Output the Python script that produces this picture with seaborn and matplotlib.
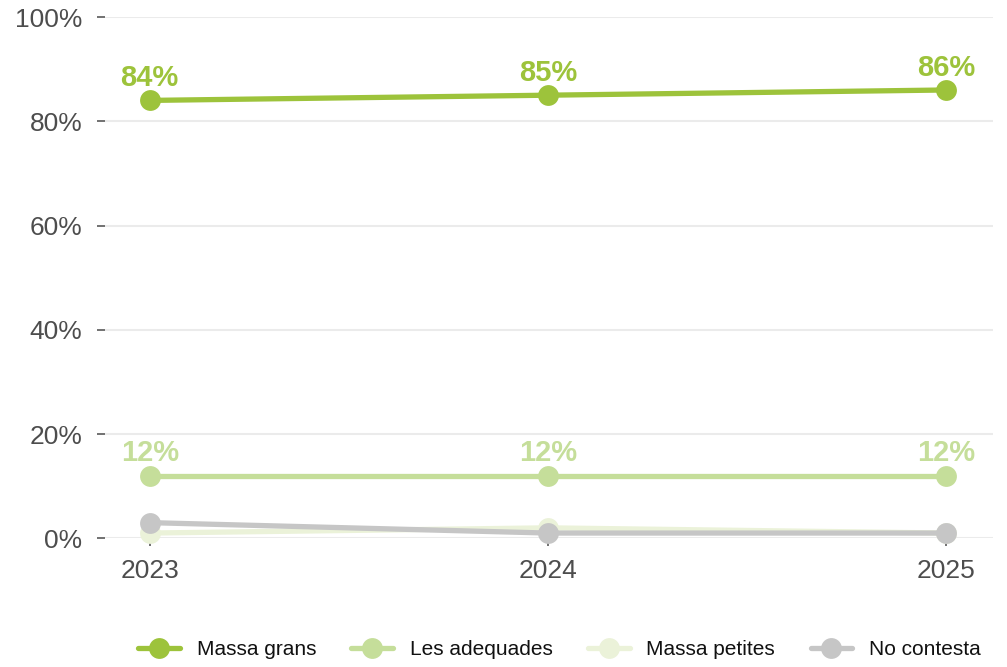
import matplotlib
matplotlib.use("Agg")
import matplotlib.pyplot as plt
import seaborn as sns
import pandas as pd

years = [2023, 2024, 2025]
massa_grans = [84, 85, 86]
les_adequades = [12, 12, 12]
massa_petites = [1, 2, 1]
no_contesta = [3, 1, 1]

series_names = ["Massa grans", "Les adequades", "Massa petites", "No contesta"]
series_values = [massa_grans, les_adequades, massa_petites, no_contesta]
colors = ["#9dc33b", "#c5de9a", "#ebf2d9", "#c6c6c6"]
labelled = ["Massa grans", "Les adequades"]

rows = []
for name, vals in zip(series_names, series_values):
    for y, v in zip(years, vals):
        rows.append({"year": y, "value": v, "serie": name})
df = pd.DataFrame(rows)

sns.set_theme(style="white")
plt.rcParams["font.family"] = ["Liberation Sans", "DejaVu Sans"]

fig = plt.figure(figsize=(10.07, 6.67), dpi=100)
ax = fig.add_axes([0.104, 0.193, 0.882, 0.7815])

palette = dict(zip(series_names, colors))
sns.lineplot(data=df, x="year", y="value", hue="serie", hue_order=series_names,
             palette=palette, marker="o", markersize=15, markeredgewidth=0,
             linewidth=3.8, ax=ax, legend=True, clip_on=False)

for name, vals in zip(series_names, series_values):
    if name in labelled:
        for y, v in zip(years, vals):
            ax.annotate(f"{v}%", (y, v), xytext=(0, 6), textcoords="offset points",
                        ha="center", va="bottom", fontsize=21, fontweight="bold",
                        color=palette[name])

ax.set_xlim(2022.887, 2025.118)
ax.set_ylim(0, 100)
ax.set_yticks([0, 20, 40, 60, 80, 100])
ax.set_yticklabels([f"{t}%" for t in [0, 20, 40, 60, 80, 100]])
ax.set_xticks(years)
ax.set_xticklabels([str(y) for y in years])
ax.grid(axis="y", color="#ebebeb", linewidth=1.5)
ax.grid(axis="x", visible=False)
ax.set_axisbelow(True)
for s in ax.spines.values():
    s.set_visible(False)
ax.tick_params(axis="both", which="both", length=6, width=1.3, color="#666666",
               labelsize=19, labelcolor="#4d4d4d", left=True, bottom=True)
ax.tick_params(axis="y", pad=10)
ax.tick_params(axis="x", pad=9)
ax.set_xlabel("")
ax.set_ylabel("")

handles, labels = ax.get_legend_handles_labels()
ax.legend(handles, labels, loc="upper center", bbox_to_anchor=(0.512, -0.16),
          ncol=4, frameon=False, fontsize=15, handlelength=2.0,
          handletextpad=0.8, columnspacing=1.7, labelcolor="#111111")

fig.savefig("out.png", dpi=100)
